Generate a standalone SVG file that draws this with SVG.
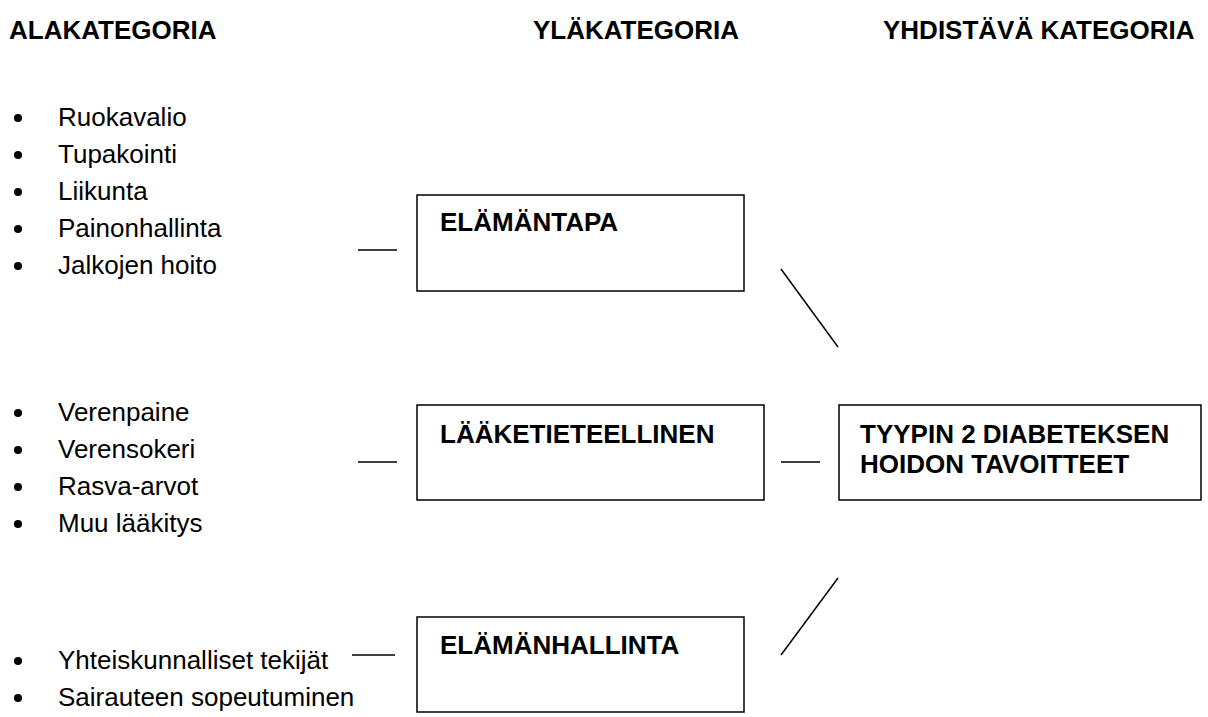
<svg xmlns="http://www.w3.org/2000/svg" width="1208" height="717" viewBox="0 0 1208 717">
<style>
.h{font-family:"Liberation Sans",Arial,sans-serif;font-weight:bold;font-size:26px;fill:#000}
.b{font-family:"Liberation Sans",Arial,sans-serif;font-weight:bold;font-size:26px;fill:#000}
.t{font-family:"Liberation Sans",Arial,sans-serif;font-size:26px;fill:#000}
.box{fill:#fff;stroke:#000;stroke-width:1.5}
.ln{stroke:#000;stroke-width:1.5;fill:none}
</style>
<rect width="1208" height="717" fill="#fff"/>
<g id="headers">
<text class="h" x="9" y="39">ALAKATEGORIA</text>
<text class="h" x="533" y="39">YLÄKATEGORIA</text>
<text class="h" x="883" y="39">YHDISTÄVÄ KATEGORIA</text>
</g>
<g id="list-elamantapa">
<circle cx="18" cy="118" r="4"/><text class="t" x="58" y="126">Ruokavalio</text>
<circle cx="18" cy="155" r="4"/><text class="t" x="58" y="163">Tupakointi</text>
<circle cx="18" cy="192" r="4"/><text class="t" x="58" y="200">Liikunta</text>
<circle cx="18" cy="229" r="4"/><text class="t" x="58" y="237">Painonhallinta</text>
<circle cx="18" cy="266" r="4"/><text class="t" x="58" y="274">Jalkojen hoito</text>
</g>
<g id="list-laaketieteellinen">
<circle cx="18" cy="413" r="4"/><text class="t" x="58" y="421">Verenpaine</text>
<circle cx="18" cy="450" r="4"/><text class="t" x="58" y="458">Verensokeri</text>
<circle cx="18" cy="487" r="4"/><text class="t" x="58" y="495">Rasva-arvot</text>
<circle cx="18" cy="524" r="4"/><text class="t" x="58" y="532">Muu lääkitys</text>
</g>
<g id="list-elamanhallinta">
<circle cx="18" cy="661" r="4"/><text class="t" x="58" y="669">Yhteiskunnalliset tekijät</text>
<circle cx="18" cy="698" r="4"/><text class="t" x="58" y="706">Sairauteen sopeutuminen</text>
</g>
<g id="connectors">
<line class="ln" x1="358" y1="250" x2="397" y2="250"/>
<line class="ln" x1="358" y1="462" x2="397" y2="462"/>
<line class="ln" x1="352" y1="655" x2="395" y2="655"/>
<line class="ln" x1="781" y1="462" x2="820" y2="462"/>
<line class="ln" x1="781" y1="269" x2="838" y2="347"/>
<line class="ln" x1="781" y1="655" x2="838" y2="578"/>
</g>
<g id="node-elamantapa">
<rect class="box" x="417" y="195" width="327" height="96"/>
<text class="b" x="440" y="231">ELÄMÄNTAPA</text>
</g>
<g id="node-laaketieteellinen">
<rect class="box" x="417" y="405" width="347" height="95"/>
<text class="b" x="440" y="443">LÄÄKETIETEELLINEN</text>
</g>
<g id="node-elamanhallinta">
<rect class="box" x="417" y="617" width="327" height="95"/>
<text class="b" x="440" y="654">ELÄMÄNHALLINTA</text>
</g>
<g id="node-tavoitteet">
<rect class="box" x="839" y="405" width="362" height="95"/>
<text class="b" x="860" y="443">TYYPIN 2 DIABETEKSEN</text>
<text class="b" x="860" y="473">HOIDON TAVOITTEET</text>
</g>
</svg>
